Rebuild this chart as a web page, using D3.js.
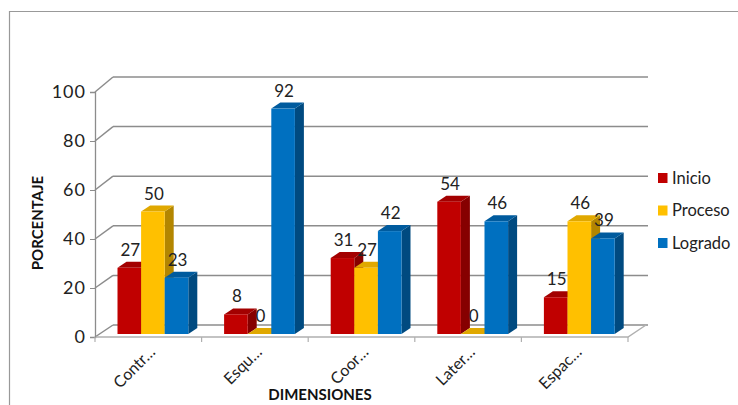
<!DOCTYPE html>
<html>
<head>
<meta charset="utf-8">
<script src="https://cdn.jsdelivr.net/npm/d3@7"></script>
<style>
  body { margin: 0; background: #fff; }
  svg { display: block; font-family: Lato, "Open Sans", sans-serif; }
</style>
</head>
<body>
<svg id="chart" width="738" height="405"></svg>
<script>
const categories = ['Contr…', 'Esqu…', 'Coor…', 'Later…', 'Espac…'];
const seriesNames = ['Inicio', 'Proceso', 'Logrado'];
const inicio = [27, 8, 31, 54, 15];
const proceso = [50, 0, 27, 0, 46];
const logrado = [23, 92, 42, 46, 39];
const yTicks = [0, 20, 40, 60, 80, 100];

const colors = {
    front: ['#c00000', '#ffc000', '#0070c0'],
    top:   ['#a30000', '#e0a800', '#005b9e'],
    side:  ['#860000', '#b38600', '#004a80']
};

const svg = d3.select('#chart');

// wall geometry (pseudo 3D)
const wall = {x0: 95, x1: 628, dx: 18, dy: -12};
const yFront = d3.scaleLinear().domain([0, 100]).range([337, 92]);
const yBack = d3.scaleLinear().domain([0, 100]).range([325, 77]);
const yBar = d3.scaleLinear().domain([0, 100]).range([334, 89]);
const bar = {depthX: 9, depthY: -6, offset: 22.5, w: 23.6};

const x0 = d3.scaleBand().domain(categories).range([wall.x0, wall.x1]);

// frame
svg.append('path')
  .attr('d', 'M9.5,405 V11.5 H738')
  .attr('fill', 'none').attr('stroke', '#999').attr('stroke-width', 1.2);

const grid = svg.append('g').attr('stroke', '#8c8c8c').attr('stroke-width', 1.5).attr('fill', 'none');

// back wall gridlines + left wall diagonals
yTicks.forEach(t => {
    grid.append('line')
      .attr('x1', wall.x0 + wall.dx).attr('x2', wall.x1 + wall.dx + 2)
      .attr('y1', yBack(t)).attr('y2', yBack(t));
    grid.append('line')
      .attr('x1', wall.x0).attr('y1', yFront(t))
      .attr('x2', wall.x0 + wall.dx).attr('y2', yBack(t));
});

// floor front + right edge
grid.append('path')
  .attr('d', `M${wall.x0},${yFront(0)} H${wall.x1} L${wall.x1 + wall.dx},${yBack(0)}`)
  .attr('stroke', '#b0b0b0');

// y axis
const yAxis = svg.append('g')
  .attr('transform', `translate(${wall.x0},0)`)
  .call(d3.axisLeft(yFront).tickValues(yTicks).tickSize(5).tickPadding(4));
yAxis.select('.domain').attr('stroke', '#8c8c8c').attr('stroke-width', 1.3);
yAxis.selectAll('.tick line').attr('stroke', '#8c8c8c');
yAxis.selectAll('text').attr('font-size', 18).attr('fill', '#222')
  .attr('font-family', 'Lato, sans-serif').attr('letter-spacing', 1);

// x ticks at category boundaries
const bounds = categories.map(c => x0(c)).concat([wall.x1]);
svg.append('g').selectAll('line').data(bounds).join('line')
  .attr('x1', d => d).attr('x2', d => d)
  .attr('y1', yFront(0)).attr('y2', yFront(0) + 5)
  .attr('stroke', '#b0b0b0').attr('stroke-width', 1.2);

// bars
const rows = categories.map((c, i) => [inicio[i], proceso[i], logrado[i]]);
const bars = [];
rows.forEach((vals, i) => {
    vals.forEach((v, s) => {
        bars.push({cat: categories[i], s, v, x: x0(categories[i]) + bar.offset + s * bar.w});
    });
});

const gb = svg.append('g');
bars.forEach(d => {
    const xL = d.x, xR = d.x + bar.w, yT = yBar(d.v), yB = yBar(0);
    const dx = bar.depthX, dy = bar.depthY;
    // side
    gb.append('path')
      .attr('d', `M${xR},${yT} L${xR + dx},${yT + dy} L${xR + dx},${yB + dy} L${xR},${yB} Z`)
      .attr('fill', colors.side[d.s]);
    // top
    gb.append('path')
      .attr('d', `M${xL},${yT} L${xL + dx},${yT + dy} L${xR + dx},${yT + dy} L${xR},${yT} Z`)
      .attr('fill', colors.top[d.s]);
    // front
    gb.append('rect')
      .attr('x', xL).attr('y', yT).attr('width', bar.w).attr('height', yB - yT)
      .attr('fill', colors.front[d.s]);
});

// value labels
svg.append('g').selectAll('text').data(bars).join('text')
  .attr('x', d => d.x + bar.w / 2 + 1)
  .attr('y', d => yBar(d.v) + bar.depthY - 6)
  .attr('text-anchor', 'middle')
  .attr('font-size', 17).attr('fill', '#222')
  .text(d => d.v);

// category labels
svg.append('g').selectAll('text').data(categories).join('text')
  .attr('transform', d => `translate(${x0(d) + x0.bandwidth() / 2 + 4},${yFront(0) + 12}) rotate(-45)`)
  .attr('text-anchor', 'end')
  .attr('dy', '0.35em')
  .attr('font-size', 16).attr('fill', '#222')
  .text(d => d);

// axis titles
svg.append('text')
  .attr('transform', 'translate(38,223) rotate(-90)')
  .attr('text-anchor', 'middle').attr('dy', '0.35em')
  .attr('font-size', 15).attr('font-weight', 'bold').attr('fill', '#111')
  .text('PORCENTAJE');

svg.append('text')
  .attr('x', 320).attr('y', 400)
  .attr('text-anchor', 'middle')
  .attr('font-size', 15).attr('font-weight', 'bold').attr('fill', '#111')
  .text('DIMENSIONES');

// legend
const legend = svg.append('g').attr('transform', 'translate(658,178)');
seriesNames.forEach((n, i) => {
    const g = legend.append('g').attr('transform', `translate(0,${i * 32.5})`);
    g.append('rect').attr('x', 0).attr('y', -5).attr('width', 9.5).attr('height', 10)
      .attr('fill', colors.front[i]);
    g.append('text').attr('x', 14).attr('dy', '0.35em')
      .attr('font-size', 16.5).attr('fill', '#222').text(n);
});
</script>
</body>
</html>
